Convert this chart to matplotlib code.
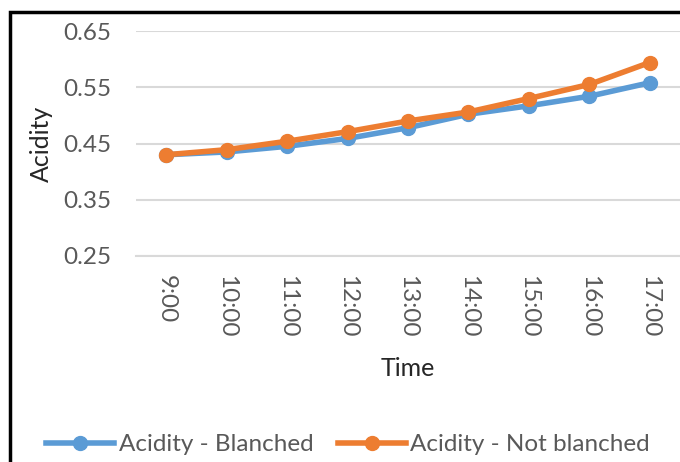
import matplotlib
matplotlib.use('Agg')
import matplotlib.pyplot as plt
from matplotlib.patches import Rectangle

times = ['9:00', '10:00', '11:00', '12:00', '13:00', '14:00', '15:00', '16:00', '17:00']
blanched = [0.430, 0.435, 0.445, 0.459, 0.478, 0.502, 0.517, 0.534, 0.558]
not_blanched = [0.430, 0.439, 0.454, 0.471, 0.490, 0.506, 0.530, 0.555, 0.594]
yticks = [0.25, 0.35, 0.45, 0.55, 0.65]

plt.rcParams['font.family'] = ['Lato', 'DejaVu Sans']
text_col = '#595959'

fig = plt.figure(figsize=(6.8, 4.62), dpi=100)
ax = fig.add_axes([136 / 680, 1 - 256 / 462, 1 - 136 / 680, (256 - 31) / 462])

x = list(range(len(times)))
ax.plot(x, blanched, color='#5B9BD5', lw=4, marker='o', ms=10, label='Acidity - Blanched')
ax.plot(x, not_blanched, color='#ED7D31', lw=4, marker='o', ms=10, label='Acidity - Not blanched')

ax.set_xlim(-0.5, len(times) - 0.5)
ax.set_ylim(0.25, 0.65)
ax.set_yticks(yticks)
ax.set_yticklabels(['%.2f' % v for v in yticks])
ax.set_xticks(x)
ax.set_xticklabels(times, rotation=-90)
ax.grid(axis='y', color='#D9D9D9', lw=1.5)
ax.set_axisbelow(True)
for s in ['top', 'right', 'left']:
    ax.spines[s].set_visible(False)
ax.spines['bottom'].set_color('#D9D9D9')
ax.spines['bottom'].set_linewidth(1.5)
ax.tick_params(axis='both', length=0, labelsize=17.5, colors=text_col)
ax.tick_params(axis='x', pad=14)
ax.tick_params(axis='y', pad=18)
ax.set_xlabel('Time', fontsize=18, color='#262626', labelpad=14)
ax.set_ylabel('Acidity', fontsize=18, color='#262626', labelpad=7)

fig.legend(loc='lower left', bbox_to_anchor=(36 / 680, -0.006), ncol=2, frameon=False,
           fontsize=17.5, labelcolor=text_col, handlelength=2.8, handletextpad=0.2,
           columnspacing=1.0, borderaxespad=0.0)

fig.patches.append(Rectangle((10 / 680, -0.5), 2, 0.5 + 1 - 12 / 462, transform=fig.transFigure,
                             fill=False, edgecolor='black', lw=2.5, clip_on=False))

fig.savefig('out.png', dpi=100)
